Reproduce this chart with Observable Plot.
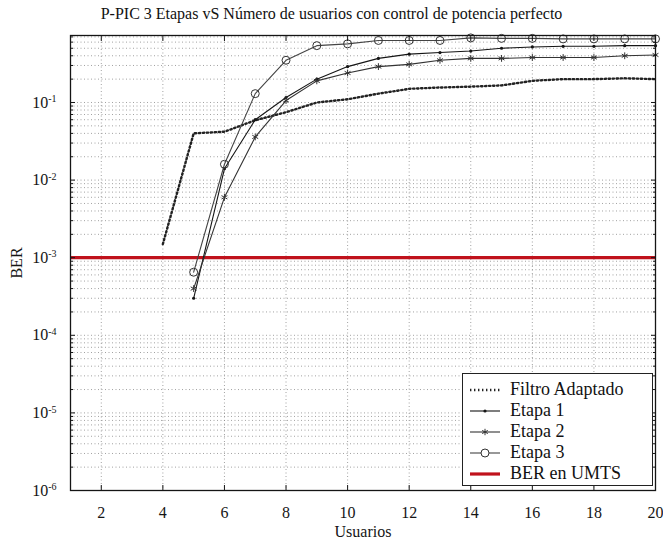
<!DOCTYPE html>
<html><head><meta charset="utf-8">
<script src="https://cdn.jsdelivr.net/npm/d3@7"></script>
<script src="https://cdn.jsdelivr.net/npm/@observablehq/plot@0.6"></script>
<style>
body{margin:0;background:#fff;font-family:"Liberation Serif","Times New Roman",serif;}
#wrap{position:relative;width:663px;height:546px;overflow:hidden;}
#title{position:absolute;left:0;top:0;width:663px;height:28px;line-height:28px;text-align:center;font-size:16px;color:#111;white-space:nowrap;}
#chart{position:absolute;left:0;top:28px;}
#legend{position:absolute;left:462px;top:373px;width:191px;height:113px;border:1.2px solid #222;background:#fff;box-sizing:border-box;font-size:18px;color:#111;padding-top:5px;}
.row{height:21px;display:flex;align-items:center;}
.row svg{margin-left:7px;margin-right:10px;}
</style></head><body>
<div id="wrap">
<div id="title">P-PIC 3 Etapas vS Número de usuarios con control de potencia perfecto</div>
<div id="chart"></div>
<div id="legend"></div>
</div>
<script>
// ---- data ----
const xTicks = [2, 4, 6, 8, 10, 12, 14, 16, 18, 20];
const yTicks = [1e-6, 1e-5, 1e-4, 1e-3, 1e-2, 1e-1];
const yTickLabels = ["10^-6", "10^-5", "10^-4", "10^-3", "10^-2", "10^-1"];
const filtroX = [4, 5, 6, 7, 8, 9, 10, 11, 12, 13, 14, 15, 16, 17, 18, 19, 20];
const filtroBER = [1.5e-3, 0.040, 0.042, 0.059, 0.075, 0.10, 0.11, 0.13, 0.15, 0.156, 0.16, 0.166, 0.19, 0.20, 0.20, 0.205, 0.20];
const usuarios = [5, 6, 7, 8, 9, 10, 11, 12, 13, 14, 15, 16, 17, 18, 19, 20];
const etapa1 = [3.0e-4, 0.014, 0.060, 0.116, 0.20, 0.29, 0.37, 0.42, 0.44, 0.46, 0.50, 0.52, 0.53, 0.53, 0.54, 0.54];
const etapa2 = [4.0e-4, 0.006, 0.036, 0.106, 0.19, 0.24, 0.29, 0.31, 0.35, 0.37, 0.37, 0.38, 0.38, 0.38, 0.40, 0.41];
const etapa3 = [6.5e-4, 0.016, 0.13, 0.35, 0.54, 0.57, 0.63, 0.63, 0.63, 0.68, 0.67, 0.67, 0.66, 0.66, 0.66, 0.66];
const berUMTS = [1e-3];
const seriesNames = ["Filtro Adaptado", "Etapa 1", "Etapa 2", "Etapa 3", "BER en UMTS"];

// ---- build tables ----
const filtro = filtroX.map((x, i) => ({x, y: filtroBER[i]}));
const e1 = usuarios.map((x, i) => ({x, y: etapa1[i]}));
const e2 = usuarios.map((x, i) => ({x, y: etapa2[i]}));
const e3 = usuarios.map((x, i) => ({x, y: etapa3[i]}));
const minorY = [];
for (let e = -6; e <= -1; e++) for (let m = 1; m <= 9; m++) { const v = m * Math.pow(10, e); if (v <= 0.73) minorY.push(v); }
const minorOnly = minorY.filter(v => !yTicks.includes(v));
const labelOf = new Map(yTicks.map((v, i) => [v, yTickLabels[i]]));

const ink = "#151515";
const grid = "#8a8a8a";
const red = "#c0121c";

const chart = Plot.plot({
  width: 663, height: 518,
  marginTop: 7, marginBottom: 56, marginLeft: 70, marginRight: 8,
  style: {fontFamily: "'Liberation Serif', 'Times New Roman', serif", fontSize: "15px", color: ink, background: "#fff"},
  x: {domain: [1, 20], label: null},
  y: {type: "log", domain: [1e-6, 0.73], label: null},
  marks: [
    Plot.ruleY(minorY, {stroke: grid, strokeWidth: 0.8, strokeDasharray: "1,2.5"}),
    Plot.ruleX(xTicks, {stroke: grid, strokeWidth: 0.8, strokeDasharray: "1,2.5"}),
    Plot.ruleY(berUMTS, {stroke: red, strokeWidth: 3.2}),
    Plot.line(filtro, {x: "x", y: "y", stroke: "#222", strokeWidth: 2.4, strokeDasharray: "1.4,2.6"}),
    Plot.line(e1, {x: "x", y: "y", stroke: ink, strokeWidth: 1.1}),
    Plot.dot(e1, {x: "x", y: "y", r: 1.6, fill: ink, stroke: "none"}),
    Plot.line(e2, {x: "x", y: "y", stroke: "#333", strokeWidth: 1.1}),
    Plot.dot(e2, {x: "x", y: "y", symbol: "asterisk", r: 3.2, stroke: "#333", strokeWidth: 1}),
    Plot.line(e3, {x: "x", y: "y", stroke: "#444", strokeWidth: 1.1}),
    Plot.dot(e3, {x: "x", y: "y", symbol: "circle", r: 4, stroke: "#333", fill: "none", strokeWidth: 1}),
    Plot.frame({stroke: ink, strokeWidth: 1.3}),
    // inward ticks
    Plot.axisX({ticks: xTicks, anchor: "bottom", tickSize: -5, tickFormat: () => "", label: null, stroke: ink}),
    Plot.axisX({ticks: xTicks, anchor: "top", tickSize: -5, tickFormat: () => "", label: null, stroke: ink}),
    Plot.axisY({ticks: yTicks, anchor: "left", tickSize: -5, tickFormat: () => "", label: null, stroke: ink}),
    Plot.axisY({ticks: yTicks, anchor: "right", tickSize: -5, tickFormat: () => "", label: null, stroke: ink}),
    Plot.axisY({ticks: minorOnly, anchor: "left", tickSize: -3, tickFormat: () => "", label: null, stroke: ink}),
    Plot.axisY({ticks: minorOnly, anchor: "right", tickSize: -3, tickFormat: () => "", label: null, stroke: ink}),
    // labels
    Plot.axisX({ticks: xTicks, anchor: "bottom", tickSize: 0, tickPadding: 16, label: "Usuarios", labelAnchor: "center", labelArrow: "none", labelOffset: 46, fontSize: 16}),
    Plot.axisY({ticks: yTicks, anchor: "left", tickSize: 0, tickPadding: 14, tickFormat: d => labelOf.get(d), label: "BER", labelAnchor: "center", labelArrow: "none", labelOffset: 60, fontSize: 16})
  ]
});
document.getElementById("chart").appendChild(chart);

// superscript exponents in y tick labels
d3.select(chart).selectAll("g[aria-label='y-axis tick label'] text").each(function() {
  const t = d3.select(this);
  const s = t.text();
  if (!s.includes("^")) return;
  const [base, ex] = s.split("^");
  t.text(null);
  t.append("tspan").text(base);
  t.append("tspan").attr("dy", "-0.55em").attr("font-size", "10px").text(ex);
});

// legend
const lg = document.getElementById("legend");
const swatches = [
  `<line x1="0" y1="5" x2="30" y2="5" stroke="#222" stroke-width="2.4" stroke-dasharray="1.4,2.6"/>`,
  `<line x1="0" y1="5" x2="30" y2="5" stroke="${ink}" stroke-width="1.1"/><circle cx="15" cy="5" r="1.6" fill="${ink}"/>`,
  `<line x1="0" y1="5" x2="30" y2="5" stroke="#333" stroke-width="1.1"/><path transform="translate(15,5)" d="M0,-3.2V3.2M-2.8,-1.6L2.8,1.6M-2.8,1.6L2.8,-1.6" stroke="#333"/>`,
  `<line x1="0" y1="5" x2="30" y2="5" stroke="#444" stroke-width="1.1"/><circle cx="15" cy="5" r="4" fill="#fff" stroke="#333"/>`,
  `<line x1="0" y1="5" x2="30" y2="5" stroke="${red}" stroke-width="3.2"/>`
];
seriesNames.forEach((name, i) => {
  const row = document.createElement("div");
  row.className = "row";
  row.innerHTML = `<svg width="30" height="10">${swatches[i]}</svg><span>${name}</span>`;
  lg.appendChild(row);
});
</script>
</body></html>
